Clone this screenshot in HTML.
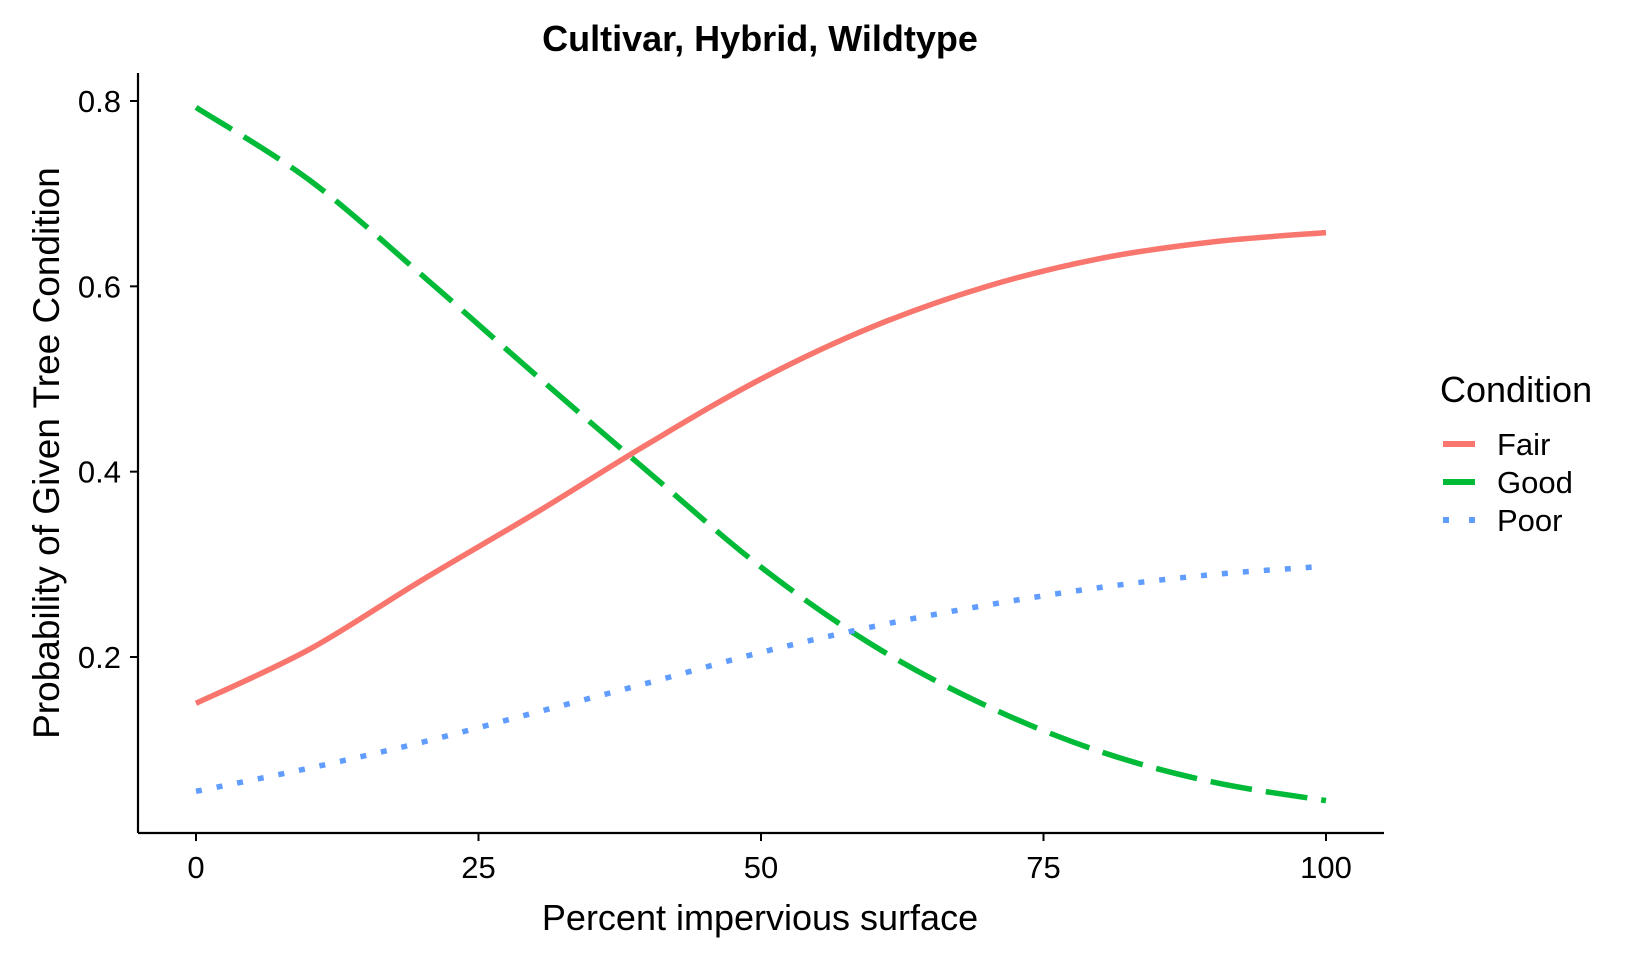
<!DOCTYPE html>
<html><head><meta charset="utf-8"><style>
body{margin:0;background:#fff}
svg text{font-family:"Liberation Sans",Arial,sans-serif}
</style></head><body>
<svg width="1632" height="960" viewBox="0 0 1632 960">
<text x="760" y="51" text-anchor="middle" font-size="36" font-weight="bold">Cultivar, Hybrid, Wildtype</text>
<g id="axes"></g>
<g id="series"></g>
<text x="760" y="930" text-anchor="middle" font-size="36">Percent impervious surface</text>
<text transform="translate(59,453) rotate(-90)" text-anchor="middle" font-size="37">Probability of Given Tree Condition</text>
<g>
<text x="1440" y="402" font-size="36">Condition</text>
<g><line x1="1443" x2="1475" y1="444" y2="444" stroke="#F8766D" stroke-width="6"/><text x="1497" y="455" font-size="31">Fair</text></g>
<g><line x1="1443" x2="1475" y1="482" y2="482" stroke="#00BA38" stroke-width="6"/><text x="1497" y="493" font-size="31">Good</text></g>
<g><line x1="1443" x2="1475" y1="520" y2="520" stroke="#619CFF" stroke-width="6" stroke-dasharray="6,20"/><text x="1497" y="531" font-size="31">Poor</text></g>
</g>
</svg>
<script>
const xValues=[0,10,20,30,40,50,60,70,80,90,100];
const fairValues=[0.15,0.208,0.283,0.355,0.43,0.50,0.557,0.60,0.63,0.648,0.658];
const goodValues=[0.793,0.715,0.612,0.505,0.40,0.297,0.212,0.147,0.098,0.065,0.045];
const poorValues=[0.055,0.08,0.108,0.14,0.172,0.205,0.233,0.256,0.275,0.289,0.298];
const xTicks=[0,25,50,75,100];
const yTicks=[0.2,0.4,0.6,0.8];
const yTickLabels=["0.2","0.4","0.6","0.8"];
const NS="http://www.w3.org/2000/svg";
function xs(v){return 196+(1326-196)*v/100;}
function ys(v){return 657-(657-101)*(v-0.2)/0.6;}
function mk(t,a,p){const e=document.createElementNS(NS,t);for(const k in a)e.setAttribute(k,a[k]);p.appendChild(e);return e;}
const ax=document.getElementById('axes');
const xl=mk('line',{x1:138,x2:1384,y1:833,y2:833,stroke:'#000','stroke-width':2.2},ax);


const yl=mk('line',{x1:138,x2:138,y1:73,y2:833,stroke:'#000','stroke-width':2.2},ax);


xTicks.forEach(t=>{
 const l=mk('line',{x1:xs(t),x2:xs(t),y1:833,y2:841,stroke:'#000','stroke-width':2},ax);
 
 
 const tx=mk('text',{x:xs(t),y:878,'text-anchor':'middle','font-size':31},ax);
 tx.textContent=t;
 
 
});
yTicks.forEach((t,i)=>{
 const l=mk('line',{x1:130,x2:138,y1:ys(t),y2:ys(t),stroke:'#000','stroke-width':2},ax);
 
 
 const tx=mk('text',{x:121,y:ys(t)+11,'text-anchor':'end','font-size':31},ax);
 tx.textContent=yTickLabels[i];
 
 
});
function pathFor(vals){
 const p=xValues.map((x,i)=>[xs(x),ys(vals[i])]);
 let d='M'+p[0][0]+','+p[0][1];
 for(let i=0;i<p.length-1;i++){
  const p0=p[Math.max(0,i-1)],p1=p[i],p2=p[i+1],p3=p[Math.min(p.length-1,i+2)];
  d+=' C'+(p1[0]+(p2[0]-p0[0])/6)+','+(p1[1]+(p2[1]-p0[1])/6)+' '+(p2[0]-(p3[0]-p1[0])/6)+','+(p2[1]-(p3[1]-p1[1])/6)+' '+p2[0]+','+p2[1];
 }
 return d;
}
const sg=document.getElementById('series');
const f=mk('path',{d:pathFor(fairValues),fill:'none',stroke:'#F8766D','stroke-width':5.5},sg);


const g=mk('path',{d:pathFor(goodValues),fill:'none',stroke:'#00BA38','stroke-width':5.5,'stroke-dasharray':'42,14'},sg);


const p=mk('path',{d:pathFor(poorValues),fill:'none',stroke:'#619CFF','stroke-width':5.5,'stroke-dasharray':'6,15'},sg);


</script>
</body></html>
